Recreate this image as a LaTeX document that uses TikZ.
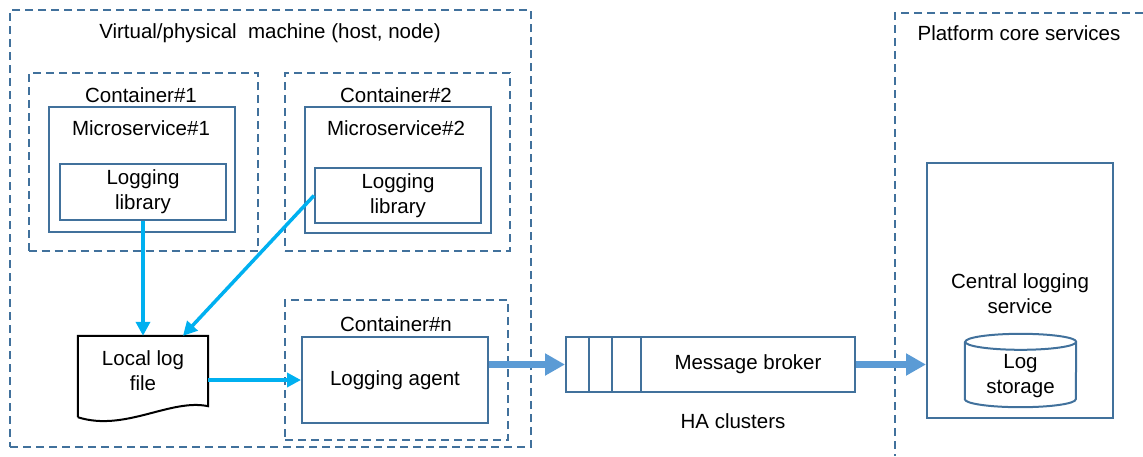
\documentclass[tikz,border=0pt]{standalone}
\usepackage{fontspec}
\setmainfont{Liberation Sans}
\usetikzlibrary{arrows.meta}
\definecolor{boxblue}{HTML}{41719C}
\definecolor{feedcyan}{HTML}{00B0F0}
\definecolor{flowblue}{HTML}{5B9BD5}

\begin{document}
\begin{tikzpicture}[x=1pt, y=-1pt, font=\fontsize{20.5}{25}\selectfont,
    box/.style = {draw=boxblue, line width=2pt, rectangle, inner sep=0pt, align=center},
    dbox/.style = {draw=boxblue, line width=2pt, dash pattern=on 8pt off 5pt},
    txt/.style = {align=center, inner sep=0pt},
    feed/.style = {draw=feedcyan, line width=3.5pt, -{Triangle[length=14pt,width=14pt]}},
    flow/.style = {draw=flowblue, line width=7pt, -{Triangle[length=20pt,width=21pt]}}]
    \useasboundingbox (0,0) rectangle (1143,456);

    % host machine
    \node[dbox, minimum width=521pt, minimum height=437pt] (host) at (270.5,228.5) {};
    \node[txt] (hostlabel) at (270,33) {Virtual/physical\ \ machine (host, node)};

    % container 1
    \node[dbox, minimum width=229pt, minimum height=178pt] (cont1) at (143,162) {};
    \node[txt] (cont1label) at (141,95) {Container\#1};
    \node[box, minimum width=186pt, minimum height=125pt] (micro1) at (142,169.5) {};
    \node[txt] (micro1label) at (141,128) {Microservice\#1};
    \node[box, minimum width=166pt, minimum height=56pt] (lib1) at (143,192) {Logging\\library};

    % container 2
    \node[dbox, minimum width=225pt, minimum height=178pt] (cont2) at (397.5,162) {};
    \node[txt] (cont2label) at (396,95) {Container\#2};
    \node[box, minimum width=186pt, minimum height=126pt] (micro2) at (398,170) {};
    \node[txt] (micro2label) at (396,128) {Microservice\#2};
    \node[box, minimum width=166pt, minimum height=55pt] (lib2) at (398,195.5) {Logging\\library};

    % container n
    \node[dbox, minimum width=223pt, minimum height=140pt] (contn) at (396.5,370) {};
    \node[txt] (contnlabel) at (396,324) {Container\#n};
    \node[box, minimum width=186pt, minimum height=86pt] (agent) at (395,380) {Logging agent};

    % local log file
    \node[txt, minimum width=130pt, minimum height=70pt] (logfile) at (143,371) {Local log\\file};
    \draw[line width=2pt, line join=miter] ([yshift=-11pt]logfile.south west) -- (logfile.north west)
        -- (logfile.north east) -- (logfile.south east)
        .. controls +(-38,-8) and +(47,15) .. ([yshift=-11pt]logfile.south west);

    % message broker
    \node[box, minimum width=23pt, minimum height=55pt] (slot1) at (577.5,364.5) {};
    \node[box, minimum width=23pt, minimum height=55pt] (slot2) at (600.5,364.5) {};
    \node[box, minimum width=29pt, minimum height=55pt] (slot3) at (626.5,364.5) {};
    \node[box, minimum width=214pt, minimum height=55pt] (broker) at (748,364.5) {Message broker};
    \node[txt] (ha) at (733,421) {HA clusters};

    % platform
    \draw[dbox] (1143,13) -| (895,456);
    \node[txt] (platlabel) at (1019,33) {Platform core services};
    \node[box, minimum width=186pt, minimum height=255pt] (central) at (1020,290.5) {};
    \node[txt] (centrallabel) at (1020,294) {Central logging\\service};

    % log storage
    \node[txt, minimum width=111pt, minimum height=57pt] (store) at (1020.5,370.5) {};
    \draw[boxblue, line width=2pt] (store.north west) -- (store.south west)
        arc[start angle=180, end angle=360, x radius=55.5pt, y radius=8pt] -- (store.north east)
        arc[start angle=0, end angle=180, x radius=55.5pt, y radius=8pt]
        arc[start angle=180, end angle=360, x radius=55.5pt, y radius=8pt];
    \node[txt] (storelabel) at (1020.5,376) {Log\\storage};

    \draw[feed] (lib1.south) -- (lib1.south |- logfile.north);
    \draw[feed] (lib2.west) -- ([xshift=40pt]logfile.north);
    \draw[feed] (logfile.east |- agent.west) -- (agent.west);
    \draw[flow] (agent.east |- slot1.west) -- (slot1.west);
    \draw[flow] (broker.east) -- (broker.east -| central.west);

\end{tikzpicture}
\end{document}
